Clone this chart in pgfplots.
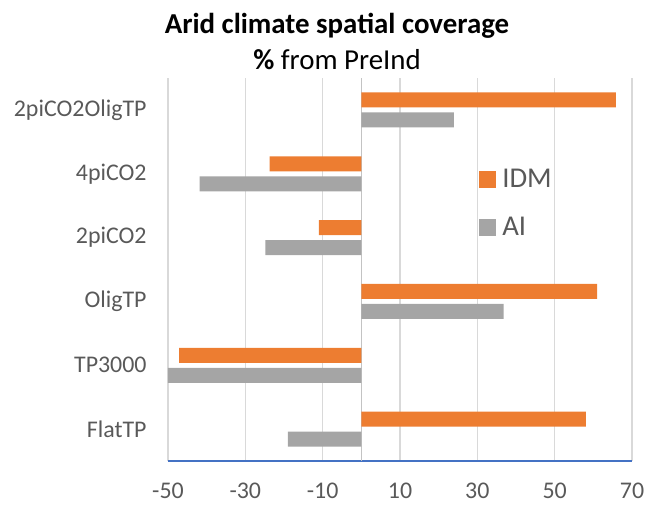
\documentclass[border=0pt]{standalone}
\usepackage{fontspec}
\setmainfont{Carlito}
\usepackage{pgfplots}
\pgfplotsset{compat=1.18}
\definecolor{idm}{HTML}{ED7D31}
\definecolor{ai}{HTML}{A5A5A5}
\definecolor{gridc}{HTML}{D9D9D9}
\definecolor{txt}{HTML}{595959}
\definecolor{axblue}{HTML}{4472C4}
\begin{document}
\begin{tikzpicture}
\useasboundingbox (-84bp,-22.5bp) rectangle (238.5bp,230.5bp);
\begin{axis}[
  at={(0,0)}, anchor=south west,
  scale only axis, width=232bp, height=191.5bp,
  xmin=-50, xmax=70, ymin=-0.5, ymax=5.5,
  xtick={-50,-30,...,70},
  ytick={0,...,5},
  yticklabels={FlatTP,TP3000,OligTP,2piCO2,4piCO2,2piCO2OligTP},
  /pgf/number format/assume math mode=true,
  xmajorgrids,
  major grid style={gridc, line width=0.8bp},
  extra x ticks={0}, extra x tick labels={},
  extra x tick style={grid=major, major grid style={gridc!90!black, line width=0.8bp}},
  axis x line*=bottom, axis y line*=left,
  x axis line style={axblue, line width=0.8bp, -},
  y axis line style={draw=none},
  major tick length=0pt,
  tick style={draw=none},
  xticklabel style={font=\fontsize{12}{14}\selectfont, text=txt, inner sep=0pt, anchor=base, yshift=-18.5bp},
  yticklabel style={font=\fontsize{12}{14}\selectfont, text=txt, inner sep=0pt, anchor=east, xshift=-10.5bp},
  legend style={at={(rel axis cs:0.670,0.672)}, anchor=west, draw=none, fill=none,
     inner sep=0pt, row sep=10bp, column sep=1.5bp, font=\fontsize{14.4}{16}\selectfont, text=txt,
     nodes={inner sep=1.5bp}},
  legend cell align=left,
  legend image code/.code={\fill[#1,draw=none] (0bp,-4.25bp) rectangle (8.5bp,4.25bp);},
]
\addplot[xbar, bar width=7.5bp, bar shift=5bp, fill=idm, draw=none]
  coordinates {(58.1,0) (-47.1,1) (61.0,2) (-11.0,3) (-23.7,4) (65.8,5)};
\addlegendentry{IDM}
\addplot[xbar, bar width=7.5bp, bar shift=-5bp, fill=ai, draw=none]
  coordinates {(-19.0,0) (-50.0,1) (36.8,2) (-24.8,3) (-41.8,4) (23.9,5)};
\addlegendentry{AI}
\end{axis}
\node[anchor=base, font=\bfseries\fontsize{14.5}{17}\selectfont] at (84.5bp,213.5bp) {Arid climate spatial coverage};
\node[anchor=base, font=\fontsize{14.5}{17}\selectfont] at (84.5bp,195.5bp) {\textbf{\%} from PreInd};
\end{tikzpicture}
\end{document}
